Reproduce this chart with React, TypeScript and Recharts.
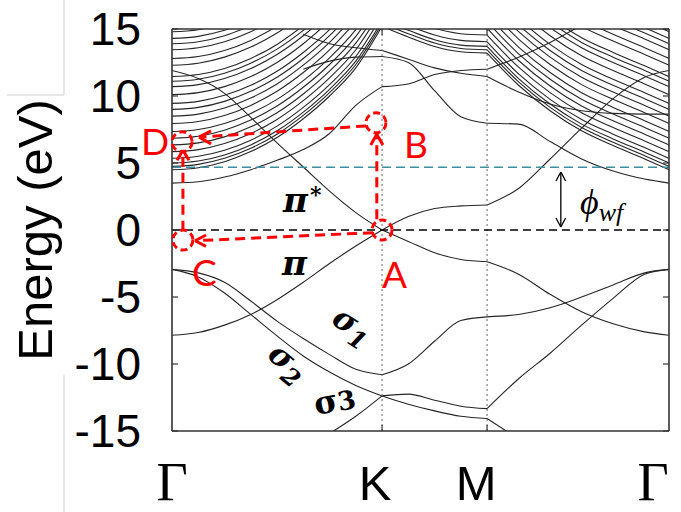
import React from "react";
import { LineChart, Line, XAxis, YAxis, ReferenceLine, ReferenceDot } from "recharts";

// k-path sample points: Γ (0) -> K (1) -> M (1.5) -> Γ (2.366)
const kPath = [0, 0.125, 0.25, 0.375, 0.5, 0.625, 0.75, 0.875, 1.0, 1.125, 1.25, 1.375, 1.5, 1.65, 1.8, 1.95, 2.1, 2.25, 2.366];
const kTickValues = [0, 1, 1.5, 2.366];
const kTickLabels = ["Γ", "K", "M", "Γ"];
const kTickShift = [0, -7, -11, -16];
const energyTicks = [-15, -10, -5, 0, 5, 10, 15];

// bands (eV), one value per k-path point
const piBand = [-7.85, -7.65, -7.1, -6.3, -5.2, -3.9, -2.5, -1.2, 0, -0.85, -1.7, -2.2, -2.37, -3.3, -4.8, -6.1, -7.0, -7.6, -7.85];
const piStarBand = [11.9, 11.3, 10.2, 8.4, 6.5, 4.7, 2.9, 1.3, 0, 1.0, 1.6, 1.8, 1.87, 3.1, 5.3, 7.6, 9.8, 11.4, 11.9];
const sigma1Band = [-2.94, -3.2, -3.9, -5.3, -6.8, -8.1, -9.3, -10.4, -10.8, -10.0, -8.3, -6.75, -6.48, -6.3, -5.8, -5.0, -4.1, -3.2, -2.94];
const sigma2Band = [-2.94, -3.5, -4.7, -6.3, -7.9, -9.4, -10.6, -11.6, -12.38, -13.0, -13.5, -13.9, -14.07, -15.6, null, null, null, null, null];
const sigma3Band = [null, null, null, null, null, -16.5, -15.2, -13.9, -12.38, -12.25, -12.7, -13.15, -13.33, -11.1, -9.2, -7.1, -5.1, -3.3, -2.94];
const upperBandA = [null, null, null, null, null, 14.6, 13.9, 13.6, 13.4, 12.75, 12.1, 11.7, 11.46, 10.3, 9.4, 8.9, 8.7, 8.65, 8.65];
const upperBandB = [null, null, null, null, null, 12.0, 12.6, 12.9, 12.95, 12.5, 10.4, 8.45, 7.97, 7.9, 6.6, 5.3, 4.4, 3.8, 3.5];
const upperBandC = [3.5, 3.6, 3.95, 4.5, 5.2, 6.0, 7.2, 9.3, 10.7, 10.9, 11.6, 11.9, 12.0, 12.9, 14.0, 15.3, null, null, null];

// dense free-electron-like (vacuum) bands above the vacuum level
const vacuumBands = [
  [4.5, 4.65, 5.1, 5.85, 6.9, 8.3, 10.0, 12.1, 15.2, 14.4, 13.7, 13.3, 13.2, 10.8, 8.9, 7.4, 6.3, 5.3, 4.5],
  [4.75, 4.9, 5.35, 6.1, 7.15, 8.55, 10.25, 12.35, 15.4, 14.65, 13.95, 13.55, 13.45, 11.05, 9.15, 7.65, 6.55, 5.55, 4.75],
  [5.0, 5.15, 5.6, 6.35, 7.4, 8.8, 10.5, 12.6, 15.6, 14.9, 14.2, 13.8, 13.7, 11.3, 9.4, 7.9, 6.8, 5.8, 5.0],
  [5.35, 5.5, 5.95, 6.7, 7.75, 9.15, 10.85, 12.95, 16.0, 15.25, 14.55, 14.15, 14.05, 11.65, 9.75, 8.25, 7.15, 6.15, 5.35],
  [5.85, 6.0, 6.45, 7.2, 8.25, 9.65, 11.35, 13.45, 16.5, 15.75, 15.05, 14.65, 14.55, 12.15, 10.25, 8.75, 7.65, 6.65, 5.85],
  [6.35, 6.5, 6.95, 7.7, 8.75, 10.15, 11.85, 13.95, 16.85, null, null, null, 15.05, 12.65, 10.75, 9.25, 8.15, 7.15, 6.35],
  [6.85, 7.0, 7.45, 8.2, 9.25, 10.65, 12.35, 14.45, 17.35, null, null, null, 15.55, 13.15, 11.25, 9.75, 8.65, 7.65, 6.85],
  [7.35, 7.5, 7.95, 8.7, 9.75, 11.15, 12.85, 14.95, 17.85, null, null, null, 16.05, 13.65, 11.75, 10.25, 9.15, 8.15, 7.35],
  [7.95, 8.1, 8.55, 9.3, 10.35, 11.75, 13.45, 15.55, null, null, null, null, 16.65, 14.25, 12.35, 10.85, 9.75, 8.75, 7.95],
  [8.5, 8.65, 9.1, 9.85, 10.9, 12.3, 14.0, 16.1, null, null, null, null, 17.2, 14.8, 12.9, 11.4, 10.3, 9.3, 8.5],
  [9.0, 9.15, 9.6, 10.35, 11.4, 12.8, 14.5, 16.6, null, null, null, null, 17.7, 15.3, 13.4, 11.9, 10.8, 9.8, 9.0],
  [9.45, 9.6, 10.05, 10.8, 11.85, 13.25, 14.95, 17.05, null, null, null, null, null, 15.75, 13.85, 12.35, 11.25, 10.25, 9.45],
  [10.1, 10.25, 10.7, 11.45, 12.5, 13.9, 15.6, null, null, null, null, null, null, 16.4, 14.5, 13.0, 11.9, 10.9, 10.1],
  [10.7, 10.85, 11.3, 12.05, 13.1, 14.5, 16.2, null, null, null, null, null, null, 17.0, 15.1, 13.6, 12.5, 11.5, 10.7],
  [11.1, 11.25, 11.7, 12.45, 13.5, 14.9, 16.6, null, null, null, null, null, null, null, 15.5, 14.0, 12.9, 11.9, 11.1],
  [11.45, 11.6, 12.05, 12.8, 13.85, 15.25, null, null, null, null, null, null, null, null, 15.85, 14.35, 13.25, 12.25, 11.45],
  [12.3, 12.45, 12.9, 13.65, 14.7, 16.1, null, null, null, null, null, null, null, null, 16.7, 15.2, 14.1, 13.1, 12.3],
  [12.8, 12.95, 13.4, 14.15, 15.2, null, null, null, null, null, null, null, null, null, null, 15.7, 14.6, 13.6, 12.8],
  [13.45, 13.6, 14.05, 14.8, 15.85, null, null, null, null, null, null, null, null, null, null, 16.35, 15.25, 14.25, 13.45],
  [13.9, 14.05, 14.5, 15.25, null, null, null, null, null, null, null, null, null, null, null, null, 15.7, 14.7, 13.9],
  [14.3, 14.45, 14.9, 15.65, null, null, null, null, null, null, null, null, null, null, null, null, 16.1, 15.1, 14.3],
  [14.8, 14.95, 15.4, null, null, null, null, null, null, null, null, null, null, null, null, null, null, 15.6, 14.8],
];

const vacuumLevel = 4.68;

// red A-B-D-C annotation (k, E)
const redCircles = [
  { k: 1.0, e: 0 },
  { k: 0.971, e: 8.0 },
  { k: 0.048, e: 6.58 },
  { k: 0.052, e: -0.75 },
];
const redPaths = [
  [[0.975, 0.8], [0.975, 7.2]],
  [[0.924, 7.77], [0.129, 6.93]],
  [[0.052, -0.05], [0.052, 5.9]],
  [[0.957, -0.2], [0.11, -0.8]],
];
const redArrowHeads = [
  [[0.975, 7.15], [0.946, 6.35], [1.004, 6.35]],
  [[0.129, 6.93], [0.186, 7.4], [0.186, 6.43]],
  [[0.052, 5.95], [0.024, 5.2], [0.081, 5.2]],
  [[0.11, -0.8], [0.162, -0.37], [0.162, -1.22]],
];
const workFnArrow = [[1.851, 4.33], [1.851, 0.22]];
const workFnHeads = [
  [[1.851, 4.33], [1.828, 3.66], [1.874, 3.66]],
  [[1.851, 0.22], [1.828, 0.9], [1.874, 0.9]],
];

const allBands = [piBand, piStarBand, sigma1Band, sigma2Band, sigma3Band, upperBandA, upperBandB, upperBandC, ...vacuumBands];
const segments = [[0, 8], [8, 12], [12, 18]];

const seriesKeys: string[] = [];
allBands.forEach((band, bi) =>
  segments.forEach(([a, z], si) => {
    const vals = band.slice(a, z + 1);
    let run = 0;
    let ok = false;
    vals.forEach((v) => {
      run = v === null ? 0 : run + 1;
      if (run >= 2) ok = true;
    });
    if (ok) seriesKeys.push(`b${bi}s${si}`);
  })
);

const rows = kPath.map((k, i) => {
  const row: Record<string, number | null> = { k };
  allBands.forEach((band, bi) =>
    segments.forEach(([a, z], si) => {
      row[`b${bi}s${si}`] = i >= a && i <= z ? band[i] : null;
    })
  );
  return row;
});

const PLOT_L = 172;
const PLOT_R = 669;
const PLOT_T = 29;
const PLOT_B = 431;

const EnergyTick = (props: any) => {
  const { y, payload } = props;
  return (
    <g>
      <text x={141} y={y + 16} textAnchor="end" fontSize={46} fontFamily="Liberation Sans, Arial, sans-serif" fill="#000">
        {payload.value}
      </text>
      <line x1={PLOT_L} x2={PLOT_L + 6} y1={y} y2={y} stroke="#333" strokeWidth={1.2} />
      <line x1={PLOT_R - 6} x2={PLOT_R} y1={y} y2={y} stroke="#333" strokeWidth={1.2} />
    </g>
  );
};

const KTick = (props: any) => {
  const { x, payload } = props;
  const idx = kTickValues.indexOf(payload.value);
  const label = kTickLabels[idx];
  const serif = label === "Γ";
  return (
    <g>
      <text
        x={x + kTickShift[idx]}
        y={500}
        textAnchor="middle"
        fontSize={serif ? 54 : 49}
        fontFamily={serif ? "Liberation Serif, Times New Roman, serif" : "Liberation Sans, Arial, sans-serif"}
        fill="#000"
      >
        {label}
      </text>
      {idx === 1 || idx === 2 ? (
        <g>
          <line x1={x} x2={x} y1={PLOT_B} y2={PLOT_B - 6} stroke="#333" strokeWidth={1.2} />
          <line x1={x} x2={x} y1={PLOT_T} y2={PLOT_T + 6} stroke="#333" strokeWidth={1.2} />
        </g>
      ) : null}
    </g>
  );
};

const RED = "#ff0000";
const greek = "DejaVu Serif, Liberation Serif, serif";

export default function App() {
  return (
    <div style={{ position: "absolute", left: 0, top: 0, width: 681, height: 512, background: "#fff" }}>
      <LineChart width={681} height={512} data={rows} margin={{ top: PLOT_T, right: 681 - PLOT_R, bottom: 12, left: 72 }}>
        <XAxis
          type="number"
          dataKey="k"
          domain={[0, 2.366]}
          ticks={kTickValues}
          interval={0}
          tick={(p: any) => <KTick {...p} />}
          tickLine={false}
          axisLine={false}
          height={69}
          allowDataOverflow
        />
        <YAxis
          type="number"
          domain={[-15, 15]}
          ticks={energyTicks}
          interval={0}
          tick={(p: any) => <EnergyTick {...p} />}
          tickLine={false}
          axisLine={false}
          width={100}
          allowDataOverflow
        />
        {seriesKeys.map((key) => (
          <Line
            key={key}
            dataKey={key}
            type="monotone"
            stroke="#262626"
            strokeWidth={1.1}
            dot={false}
            activeDot={false}
            connectNulls={false}
            isAnimationActive={false}
          />
        ))}
        <ReferenceLine x={1} stroke="#666" strokeDasharray="2 3" strokeWidth={1} />
        <ReferenceLine x={1.5} stroke="#666" strokeDasharray="2 3" strokeWidth={1} />
        <ReferenceLine y={vacuumLevel} stroke="#3a8fa3" strokeDasharray="9 5" strokeWidth={1.6} />
        <ReferenceLine y={0} stroke="#000" strokeDasharray="8 5" strokeWidth={1.6} />
        <ReferenceLine y={15} stroke="#333" strokeWidth={1.6} />
        <ReferenceLine y={-15} stroke="#333" strokeWidth={1.6} />
        <ReferenceLine x={0} stroke="#333" strokeWidth={1.6} />
        <ReferenceLine x={2.366} stroke="#333" strokeWidth={1.6} />
        {redPaths.map((p, i) => (
          <ReferenceLine
            key={`rp${i}`}
            segment={[{ x: p[0][0], y: p[0][1] }, { x: p[1][0], y: p[1][1] }]}
            stroke={RED}
            strokeWidth={3}
            strokeDasharray="10 6"
            ifOverflow="visible"
          />
        ))}
        {redArrowHeads.flatMap((h, i) => [
          <ReferenceLine key={`ra${i}`} segment={[{ x: h[1][0], y: h[1][1] }, { x: h[0][0], y: h[0][1] }]} stroke={RED} strokeWidth={3} ifOverflow="visible" />,
          <ReferenceLine key={`rb${i}`} segment={[{ x: h[2][0], y: h[2][1] }, { x: h[0][0], y: h[0][1] }]} stroke={RED} strokeWidth={3} ifOverflow="visible" />,
        ])}
        {redCircles.map((c, i) => (
          <ReferenceDot
            key={`rc${i}`}
            x={c.k}
            y={c.e}
            r={10}
            fill="none"
            stroke={RED}
            strokeWidth={3}
            strokeDasharray="7 4"
            ifOverflow="visible"
          />
        ))}
        <ReferenceLine
          segment={[{ x: workFnArrow[0][0], y: workFnArrow[0][1] }, { x: workFnArrow[1][0], y: workFnArrow[1][1] }]}
          stroke="#000"
          strokeWidth={1.3}
          ifOverflow="visible"
        />
        {workFnHeads.flatMap((h, i) => [
          <ReferenceLine key={`wa${i}`} segment={[{ x: h[1][0], y: h[1][1] }, { x: h[0][0], y: h[0][1] }]} stroke="#000" strokeWidth={1.3} ifOverflow="visible" />,
          <ReferenceLine key={`wb${i}`} segment={[{ x: h[2][0], y: h[2][1] }, { x: h[0][0], y: h[0][1] }]} stroke="#000" strokeWidth={1.3} ifOverflow="visible" />,
        ])}
      </LineChart>
      <svg width={681} height={512} style={{ position: "absolute", left: 0, top: 0, pointerEvents: "none" }}>
        {/* stray crop lines from the original figure */}
        <line x1={64} x2={64} y1={0} y2={95} stroke="#cfcfcf" strokeWidth={1} />
        <line x1={7} x2={64} y1={95} y2={95} stroke="#cfcfcf" strokeWidth={1} />
        <line x1={64} x2={64} y1={375} y2={512} stroke="#cfcfcf" strokeWidth={1} />
        <text
          x={52}
          y={230}
          transform="rotate(-90 52 230)"
          textAnchor="middle"
          fontSize={49}
          fontFamily="Liberation Sans, Arial, sans-serif"
          fill="#000"
        >
          Energy (eV)
        </text>
        <g fontFamily="Lato, Open Sans, sans-serif" fontSize={37} fill={RED}>
          <text x={382} y={288}>A</text>
          <text x={404} y={158}>B</text>
          <text x={192} y={286}>C</text>
          <text x={141} y={155}>D</text>
        </g>
        <g fontFamily={greek} fontStyle="italic" fontWeight="bold" fill="#000">
          <text x={283} y={212} fontSize={34}>π</text>
          <text x={310} y={202} fontSize={22}>*</text>
          <text x={282} y={275} fontSize={34}>π</text>
          <text transform="translate(330 323) rotate(32)" fontSize={32}>
            σ<tspan fontSize={24} dy={8}>1</tspan>
          </text>
          <text transform="translate(266 357) rotate(40)" fontSize={32}>
            σ<tspan fontSize={24} dy={8}>2</tspan>
          </text>
        </g>
        <text transform="translate(316 415) rotate(-10)" fontFamily={greek} fontWeight="bold" fontSize={32} fill="#000">
          σ<tspan fontSize={26}>3</tspan>
        </text>
        <text x={580} y={214} fontFamily="Liberation Serif, serif" fontStyle="italic" fontSize={36} fill="#000">
          ϕ<tspan fontSize={26} dy={7}>wf</tspan>
        </text>
      </svg>
    </div>
  );
}
